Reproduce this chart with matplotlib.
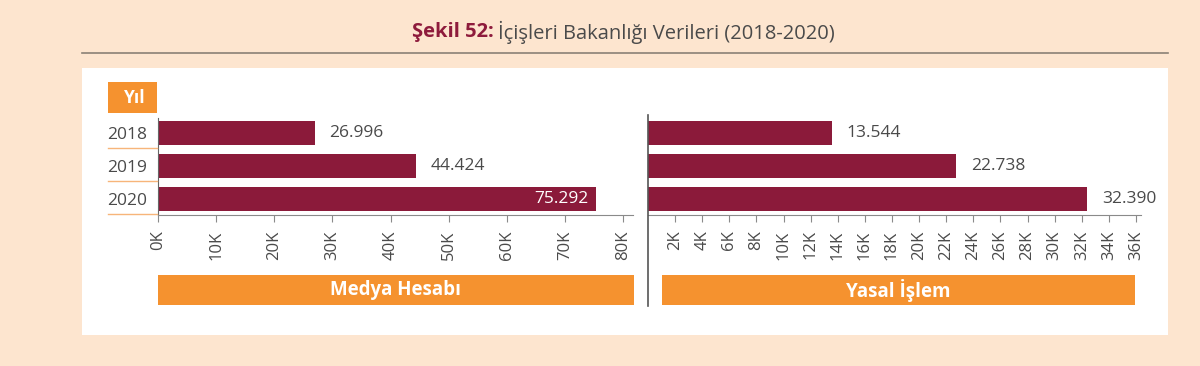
import matplotlib
matplotlib.use("Agg")
import matplotlib.pyplot as plt
from matplotlib.patches import Rectangle
from matplotlib.lines import Line2D
from matplotlib.ticker import FuncFormatter

# data
years = ["2018", "2019", "2020"]
medya_hesabi = [26996, 44424, 75292]
yasal_islem = [13544, 22738, 32390]
left_ticks = [0, 10000, 20000, 30000, 40000, 50000, 60000, 70000, 80000]
right_ticks = [2000, 4000, 6000, 8000, 10000, 12000, 14000, 16000, 18000,
               20000, 22000, 24000, 26000, 28000, 30000, 32000, 34000, 36000]

plt.rcParams['font.family'] = ['Open Sans', 'DejaVu Sans']

W, H = 1200, 366
peach = "#fde5cf"
maroon = "#8b1a3a"
orange = "#f5922f"
grey = "#4a4a4a"


def rect(x0, y0, x1, y1):
    return [x0 / W, 1 - y1 / H, (x1 - x0) / W, (y1 - y0) / H]


def fx(x):
    return x / W


def fy(y):
    return 1 - y / H


def fmt_k(v, pos):
    return f"{int(round(v / 1000))}K"


def fmt_num(v):
    return f"{v:,}".replace(",", ".")


fig = plt.figure(figsize=(12, 3.66), dpi=100, facecolor=peach)

# white panel (behind the axes)
fig.patches.append(Rectangle((fx(82), fy(335)), fx(1168) - fx(82), fy(68) - fy(335),
                             transform=fig.transFigure, facecolor="white",
                             edgecolor="none", zorder=-5))

# title
fig.text(fx(494), fy(32), "Şekil 52:", ha="right", va="center", fontsize=14.5,
         fontweight="bold", color="#8e1b3c")
fig.text(fx(498), fy(32), "İçişleri Bakanlığı Verileri (2018-2020)", ha="left",
         va="center", fontsize=14.5, color=grey)
fig.lines.append(Line2D([fx(82), fx(1168)], [fy(53), fy(53)], transform=fig.transFigure,
                        color="#8a8176", linewidth=1.2))

# "Yıl" header box
fig.patches.append(Rectangle((fx(108), fy(113)), fx(157) - fx(108), fy(82) - fy(113),
                             transform=fig.transFigure, facecolor=orange,
                             edgecolor="none", zorder=1))
fig.text(fx(135), fy(98), "Yıl", ha="center", va="center", fontsize=12.5,
         fontweight="bold", color="white")
for yy in [148, 181, 214]:
    fig.lines.append(Line2D([fx(108), fx(157)], [fy(yy), fy(yy)],
                            transform=fig.transFigure, color="#f7b57a", linewidth=1))

pos = list(range(len(years)))
ylim = (2.485, -0.455)

# left chart
axl = fig.add_axes(rect(158, 118, 633, 215))
axl.barh(pos, medya_hesabi, height=0.73, color=maroon)
axl.set_xlim(0, 80000 * 475 / 465)
axl.set_ylim(*ylim)
axl.set_xticks(left_ticks)
axl.xaxis.set_major_formatter(FuncFormatter(fmt_k))
axl.set_yticks(pos)
axl.set_yticklabels(years)
for i, v in enumerate(medya_hesabi):
    if v > 70000:
        axl.text(v - 1200, i, fmt_num(v), ha="right", va="center", fontsize=12.5,
                 color="white")
    else:
        axl.text(v + 2500, i, fmt_num(v), ha="left", va="center", fontsize=12.5,
                 color=grey)

# right chart
axr = fig.add_axes(rect(648, 118, 1141, 215))
axr.barh(pos, yasal_islem, height=0.73, color=maroon)
axr.set_xlim(0, 36000 * 493 / 488)
axr.set_ylim(*ylim)
axr.set_xticks(right_ticks)
axr.xaxis.set_major_formatter(FuncFormatter(fmt_k))
axr.set_yticks([])
for i, v in enumerate(yasal_islem):
    axr.text(v + 1100, i, fmt_num(v), ha="left", va="center", fontsize=12.5,
             color=grey)

for ax in (axl, axr):
    ax.set_facecolor("none")
    for s in ("top", "right"):
        ax.spines[s].set_visible(False)
    ax.spines["bottom"].set_color("#8a8a8a")
    ax.spines["left"].set_color("#666666")
    ax.tick_params(axis="x", length=5, color="#8a8a8a", labelrotation=90,
                   labelsize=12, labelcolor=grey, pad=6)
    ax.tick_params(axis="y", length=0, labelsize=12.5, labelcolor=grey, pad=8)
axr.spines["left"].set_visible(False)

# divider between charts
fig.lines.append(Line2D([fx(648), fx(648)], [fy(115), fy(306)], transform=fig.transFigure,
                        color="#555555", linewidth=1.2))

# orange category boxes
for x0, x1, label in [(158, 634, "Medya Hesabı"), (662, 1135, "Yasal İşlem")]:
    fig.patches.append(Rectangle((fx(x0), fy(305)), fx(x1) - fx(x0), fy(275) - fy(305),
                                 transform=fig.transFigure, facecolor=orange,
                                 edgecolor="none", zorder=1))
    fig.text(fx((x0 + x1) / 2), fy(290), label, ha="center", va="center",
             fontsize=13.5, fontweight="bold", color="white")

fig.savefig("out.png", dpi=100, facecolor=peach)
